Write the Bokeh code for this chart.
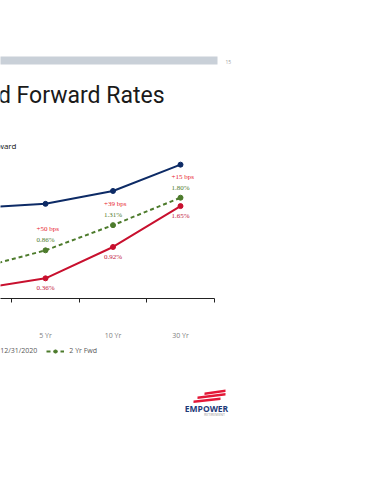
from bokeh.plotting import figure
from bokeh.layouts import column
from bokeh.models import (ColumnDataSource, FixedTicker, Label, LabelSet, BoxAnnotation,
                          PolyAnnotation, Legend, LegendItem, Range1d)
from bokeh.embed import file_html
from bokeh.resources import INLINE

# ---- data ----
categories = ["3 Yr", "5 Yr", "10 Yr", "30 Yr"]
rates_12_31_2019 = [1.62, 1.69, 1.92, 2.39]
rates_12_31_2020 = [0.17, 0.36, 0.92, 1.65]
rates_2yr_fwd = [0.54, 0.86, 1.31, 1.80]
series_names = ["12/31/2019", "12/31/2020", "2 Yr Fwd"]

xpos = list(range(len(categories)))
bps_labels = ["+%d bps" % round((f - c) * 100) for f, c in zip(rates_2yr_fwd, rates_12_31_2020)]
pct_2020 = ["%.2f%%" % v for v in rates_12_31_2020]
pct_fwd = ["%.2f%%" % v for v in rates_2yr_fwd]

NAVY = "#0d2b66"
RED = "#c8102e"
GREEN = "#4d7b2c"
FONT = "Open Sans"

src = ColumnDataSource(dict(x=xpos, cat=categories, y19=rates_12_31_2019, y20=rates_12_31_2020,
                            yf=rates_2yr_fwd, bps=bps_labels, p20=pct_2020, pf=pct_fwd))

# ---------- main figure: header + chart ----------
p = figure(width=362, height=344, output_backend="svg", toolbar_location=None,
           x_range=Range1d(0.3333, 5.696), y_range=Range1d(0, 5.321),
           min_border_left=0, min_border_right=0, min_border_top=0, min_border_bottom=46,
           y_axis_location=None, outline_line_color=None,
           background_fill_color="white", border_fill_color="white")
p.grid.visible = False

ax = p.xaxis[0]
ax.ticker = FixedTicker(ticks=xpos, minor_ticks=[x - 0.5 for x in xpos] + [xpos[-1] + 0.5])
ax.bounds = (0.3333, xpos[-1] + 0.5)
ax.major_label_overrides = {x: c for x, c in zip(xpos, categories)}
ax.major_tick_line_color = None
ax.major_tick_out = 0
ax.major_tick_in = 0
ax.minor_tick_line_color = "#222222"
ax.minor_tick_in = 0
ax.minor_tick_out = 4
ax.axis_line_color = "#222222"
ax.major_label_standoff = 28
ax.major_label_text_font = FONT
ax.major_label_text_font_size = "7px"
ax.major_label_text_color = "#808080"

p.line("x", "y19", source=src, color=NAVY, line_width=2)
p.scatter("x", "y19", source=src, color=NAVY, size=5)
p.line("x", "y20", source=src, color=RED, line_width=2)
p.scatter("x", "y20", source=src, color=RED, size=5)
p.line("x", "yf", source=src, color=GREEN, line_width=2, line_dash="4 3")
p.scatter("x", "yf", source=src, color=GREEN, size=5)

common = dict(source=src, text_font=FONT, text_font_size="7px", text_align="left",
              text_baseline="middle", x_offset=-9)
p.add_layout(LabelSet(x="x", y="yf", text="bps", y_offset=21, text_color="#e8232d", **common))
p.add_layout(LabelSet(x="x", y="yf", text="pf", y_offset=10, text_color="#4f7a2e", **common))
p.add_layout(LabelSet(x="x", y="y20", text="p20", y_offset=-10, text_color="#c2143c", **common))

# header decorations (screen units: from frame bottom-left, y up)
p.add_layout(BoxAnnotation(left=-10, right=217, top=242, bottom=234,
                           left_units="screen", right_units="screen",
                           top_units="screen", bottom_units="screen",
                           fill_color="#c9d0d8", fill_alpha=1, line_color=None))
p.add_layout(Label(x=225, y=236.5, x_units="screen", y_units="screen", text="15",
                   text_font=FONT, text_font_size="5px", text_color="#a0a0a0",
                   text_baseline="middle"))
p.add_layout(Label(x=164, y=203, x_units="screen", y_units="screen",
                   text="Current and Forward Rates", text_align="right",
                   text_baseline="alphabetic", text_font="Roboto", text_font_size="23px",
                   text_color="#1a1a1a"))
p.add_layout(Label(x=16, y=153, x_units="screen", y_units="screen",
                   text="Treasury Yield Curve: Current vs. 2 Yr Forward", text_align="right",
                   text_baseline="middle", text_font=FONT, text_font_size="8px",
                   text_color="#111111"))

# ---------- footer figure: legend + logo ----------
q = figure(width=362, height=128, output_backend="svg", toolbar_location=None,
           x_range=Range1d(0, 1), y_range=Range1d(-3, -2),
           min_border_left=0, min_border_right=0, min_border_top=0, min_border_bottom=0,
           x_axis_location=None, y_axis_location=None, outline_line_color=None,
           background_fill_color="white", border_fill_color="white")
q.grid.visible = False
# same series drawn outside q's visible window: used only as legend glyphs
rl19 = q.line("x", "y19", source=src, color=NAVY, line_width=2)
rs19 = q.scatter("x", "y19", source=src, color=NAVY, size=5)
rl20 = q.line("x", "y20", source=src, color=RED, line_width=2)
rs20 = q.scatter("x", "y20", source=src, color=RED, size=5)
rlf = q.line("x", "yf", source=src, color=GREEN, line_width=2, line_dash="4 3")
rsf = q.scatter("x", "yf", source=src, color=GREEN, size=5)

legend = Legend(items=[LegendItem(label=series_names[0], renderers=[rl19, rs19]),
                       LegendItem(label=series_names[1], renderers=[rl20, rs20]),
                       LegendItem(label=series_names[2], renderers=[rlf, rsf])],
                location=(-92, 117), orientation="horizontal", padding=0, margin=0, spacing=9,
                glyph_width=18, glyph_height=8, label_height=8, label_standoff=5,
                label_text_font=FONT, label_text_font_size="7px", label_text_color="#595959",
                background_fill_alpha=0, border_line_color=None)
q.add_layout(legend)

for xs, ys in [([204, 225, 225, 204], [80, 83, 80.5, 77.5]),
               ([197, 225, 225, 197], [76, 79.5, 77, 73.5]),
               ([193, 220, 220, 193], [72, 75, 72.5, 69.5])]:
    q.add_layout(PolyAnnotation(xs=xs, ys=ys, xs_units="screen", ys_units="screen",
                                fill_color="#e31837", fill_alpha=1, line_color=None))
q.add_layout(Label(x=206, y=64, x_units="screen", y_units="screen", text="EMPOWER",
                   text_align="center", text_baseline="middle", text_font=FONT,
                   text_font_style="bold", text_font_size="8.5px", text_color="#1d3a78"))
q.add_layout(Label(x=214, y=58, x_units="screen", y_units="screen", text="RETIREMENT",
                   text_align="center", text_baseline="middle", text_font=FONT,
                   text_font_size="3.5px", text_color="#9a9a9a"))

layout = column(p, q, spacing=0)
open("out.html", "w").write(file_html(layout, INLINE))
